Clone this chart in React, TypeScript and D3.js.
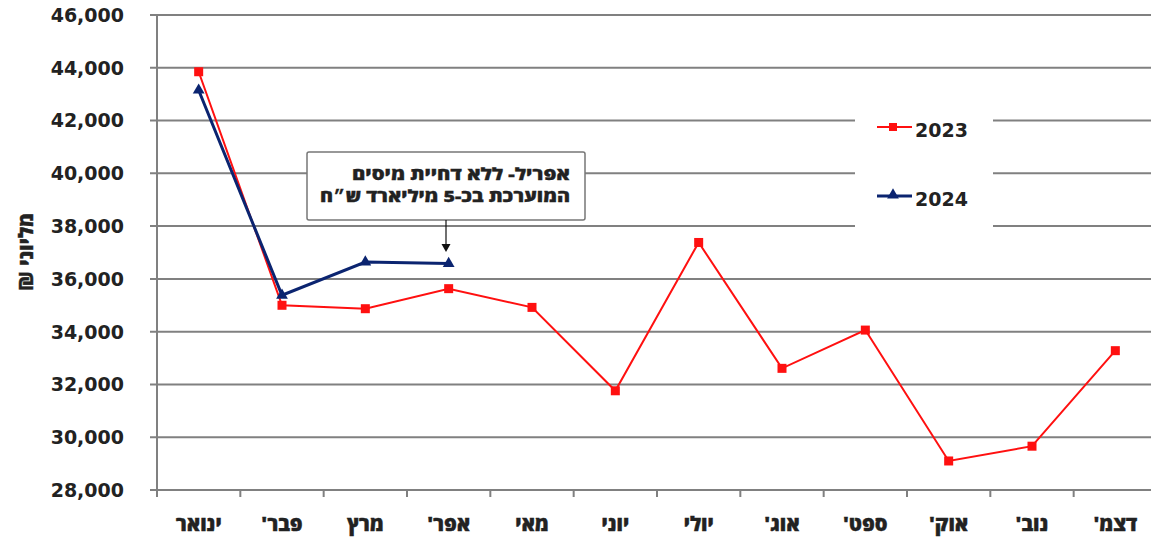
import React from "react";
import * as d3 from "d3";

const months = ["ינואר", "פבר'", "מרץ", "אפר'", "מאי", "יוני", "יולי", "אוג'", "ספט'", "אוק'", "נוב'", "דצמ'"];
const values2023 = [43850, 35000, 34870, 35630, 34920, 31760, 37380, 32610, 34060, 29100, 29660, 33280];
const values2024 = [43150, 35380, 36640, 36580];
const yTicks = [28000, 30000, 32000, 34000, 36000, 38000, 40000, 42000, 44000, 46000];
const seriesNames = ["2023", "2024"];
const annotationLines = ["אפריל- ללא דחיית מיסים", "המוערכת בכ-5 מיליארד ש״ח"];
const annotationWidths = [218, 250];
const yTitle = "מליוני ₪";

const W = 1151;
const H = 539;
const FONT = "'DejaVu Sans', sans-serif";
const HEB = "'Open Sans', 'Liberation Sans', sans-serif";
const RED = "#ff1010";
const BLUE = "#0b2470";
const GRID = "#808080";

export default function App() {
  const x = d3.scaleBand<string>().domain(months).range([157, 1157]);
  const y = d3.scaleLinear().domain([28000, 46000]).range([490, 15]);
  const cx = (i: number) => (x(months[i]) as number) + x.bandwidth() / 2;
  const fmt = d3.format(",");

  const line = d3
    .line<number>()
    .x((_, i) => cx(i))
    .y((d) => y(d));

  const tri = d3.symbol().type(d3.symbolTriangle).size(60)();

  const bandEdges = months.map((m) => x(m) as number);

  return (
    <svg
      width={W}
      height={H}
      style={{ position: "absolute", left: 0, top: 0, background: "#fff" }}
      fontFamily={FONT}
    >
      <rect x={0} y={0} width={W} height={H} fill="#fff" />
      {yTicks.map((t) => (
        <line key={t} x1={150} x2={W} y1={y(t)} y2={y(t)} stroke={GRID} strokeWidth={2} />
      ))}
      <line x1={157} x2={157} y1={y(46000)} y2={y(28000)} stroke={GRID} strokeWidth={2} />
      {bandEdges.map((e, i) => (
        <line key={i} x1={e} x2={e} y1={y(28000)} y2={y(28000) + 7} stroke={GRID} strokeWidth={2} />
      ))}
      {yTicks.map((t) => (
        <text
          key={t}
          x={124}
          y={y(t)}
          dy="0.36em"
          textAnchor="end"
          fontSize={19}
          fontWeight="bold"
          fill="#222"
        >
          {fmt(t)}
        </text>
      ))}
      {months.map((m, i) => (
        <text
          key={m}
          x={cx(i)}
          y={531}
          textAnchor="middle"
          fontSize={20}
          fontWeight={800}
          fontFamily={HEB}
          fill="#222"
          stroke="#222"
          strokeWidth={0.4}
          style={{ direction: "rtl", unicodeBidi: "plaintext" }}
        >
          {m}
        </text>
      ))}
      <text
        transform={`translate(33,252) rotate(-90)`}
        textAnchor="middle"
        fontSize={20}
        fontWeight={800}
        fontFamily={HEB}
        fill="#222"
        stroke="#222"
        strokeWidth={0.4}
        style={{ direction: "rtl" }}
      >
        {yTitle}
      </text>

      <rect x={855} y={95} width={138} height={142} fill="#fff" />
      {seriesNames.map((s, i) => {
        const ly = i === 0 ? 127 : 196;
        const col = i === 0 ? RED : BLUE;
        return (
          <g key={s}>
            <line x1={877} x2={912} y1={ly} y2={ly} stroke={col} strokeWidth={i === 0 ? 2 : 3} />
            {i === 0 ? (
              <rect x={893 - 4} y={ly - 4} width={8} height={8} fill={col} />
            ) : (
              <path d={tri as string} transform={`translate(893,${ly - 1})`} fill={col} />
            )}
            <text x={915} y={ly + 10} fontSize={19} fontWeight="bold" fill="#222">
              {s}
            </text>
          </g>
        );
      })}

      <rect x={307} y={152} width={278} height={68} rx={2} fill="#fff" stroke="#777" strokeWidth={1.5} />
      {annotationLines.map((l, i) => (
        <text
          key={i}
          x={570}
          y={180 + i * 22}
          fontSize={16.5}
          fontWeight={800}
          fontFamily={HEB}
          fill="#222"
          stroke="#222"
          strokeWidth={0.3}
          textAnchor="start"
          textLength={annotationWidths[i]}
          lengthAdjust="spacingAndGlyphs"
          style={{ direction: "rtl" }}
        >
          {l}
        </text>
      ))}
      <line x1={446} x2={446} y1={220} y2={246} stroke="#111" strokeWidth={1.2} />
      <path d="M441.5,244 L450.5,244 L446,252 Z" fill="#111" />

      <path d={line(values2023) as string} fill="none" stroke={RED} strokeWidth={2} />
      {values2023.map((v, i) => (
        <rect key={i} x={cx(i) - 4.5} y={y(v) - 4.5} width={9} height={9} fill={RED} />
      ))}
      <path d={line(values2024) as string} fill="none" stroke={BLUE} strokeWidth={3} />
      {values2024.map((v, i) => (
        <path key={i} d={tri as string} transform={`translate(${cx(i)},${y(v)})`} fill={BLUE} />
      ))}
    </svg>
  );
}
